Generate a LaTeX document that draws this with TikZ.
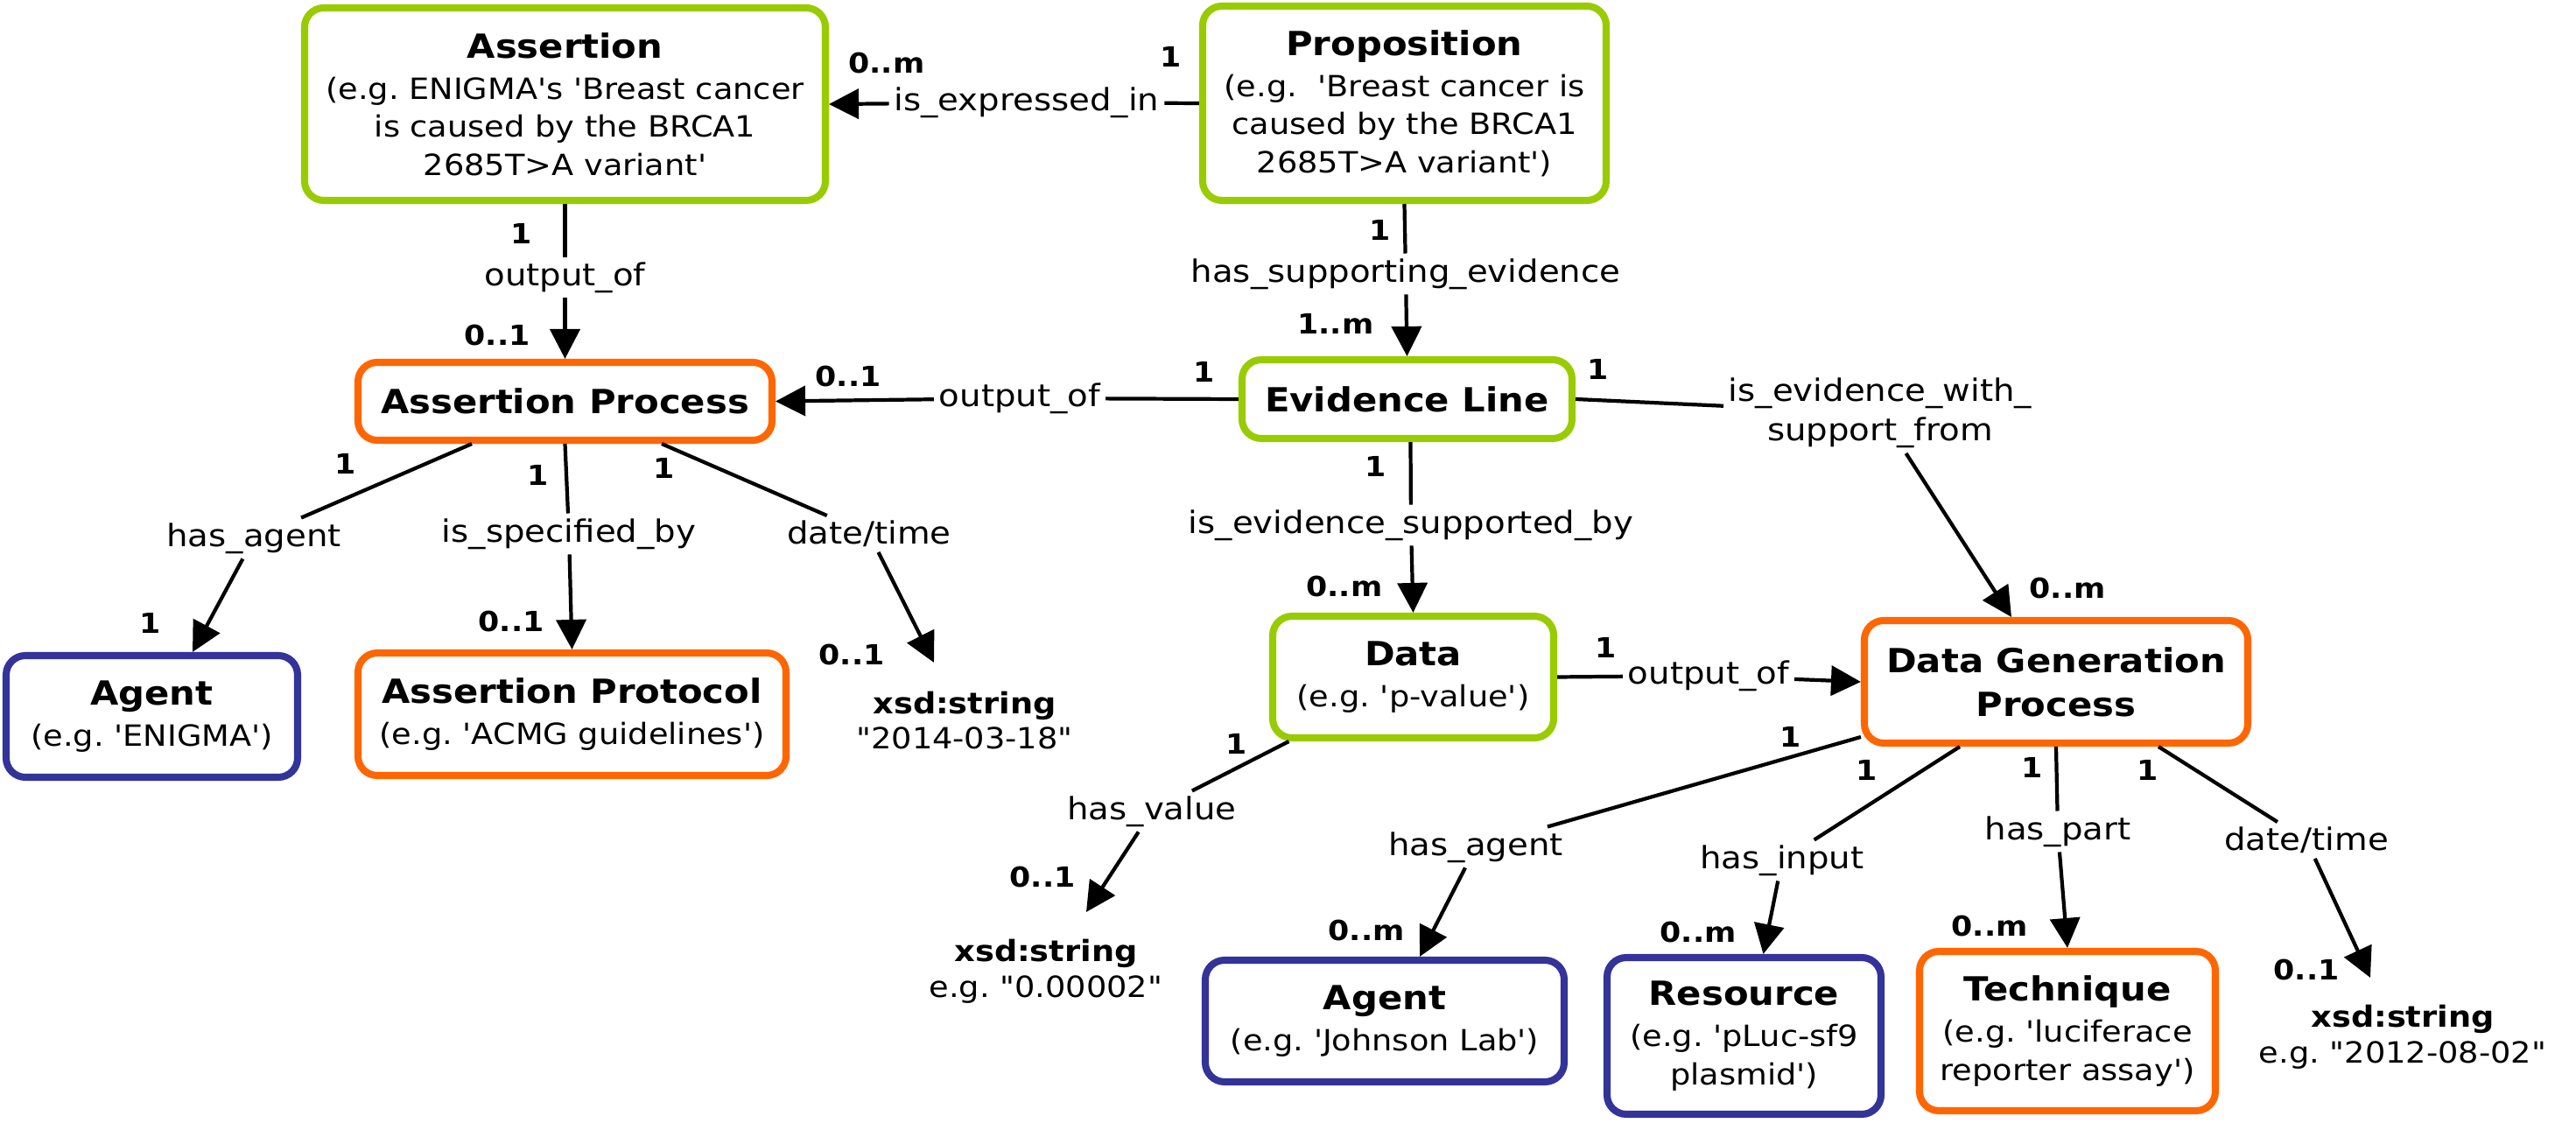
\documentclass[tikz,border=0pt]{standalone}
\usepackage{fontspec}
\newfontfamily\diagfont{DejaVu Sans}[FakeStretch=1.1]
\usetikzlibrary{arrows.meta,positioning}
\definecolor{ngreen}{RGB}{153,204,0}
\definecolor{norange}{RGB}{255,102,0}
\definecolor{nblue}{RGB}{51,51,153}
\newcommand\ttl[1]{{\bfseries\fontsize{10.8}{14}\selectfont #1}}
\frenchspacing

\begin{document}
\begin{tikzpicture}[
    font=\diagfont\fontsize{9.5}{12.4}\selectfont,
    box/.style={draw,line width=2.3pt,rounded corners=0.22cm,align=center,inner sep=0pt},
    greenbox/.style={box,draw=ngreen},
    orangebox/.style={box,draw=norange},
    bluebox/.style={box,draw=nblue},
    lbl/.style={inner sep=1.5pt,align=center,font=\diagfont\fontsize{10}{12.8}\selectfont},
    card/.style={inner sep=0pt,font=\diagfont\bfseries\fontsize{9}{11}\selectfont},
    valtext/.style={inner sep=0pt,align=center,font=\diagfont\fontsize{9.5}{11.5}\selectfont},
    link/.style={line width=1.2pt},
    arr/.style={link,-{Triangle[length=0.34cm,width=0.34cm]}}]
                    \useasboundingbox (0,0) rectangle (29.43,-12.83);

                    % Drawing node Assertion
                    \node [greenbox,minimum width=5.95cm,minimum height=2.20cm] (assert) at (6.455,-1.19) {\ttl{Assertion}\\[1pt](e.g. ENIGMA's 'Breast cancer\\is caused by the BRCA1\\2685T>A variant'};%
                    % Drawing node Proposition
                    \node [greenbox,minimum width=4.61cm,minimum height=2.22cm] (prop) at (16.045,-1.18) {\ttl{Proposition}\\[1pt](e.g.\ \ 'Breast cancer is\\caused by the BRCA1\\2685T>A variant')};%
                    % Drawing node Assertion Process
                    \node [orangebox,minimum width=4.73cm,minimum height=0.89cm] (ap) at (6.455,-4.585) {\ttl{Assertion Process}};%
                    % Drawing node Evidence Line
                    \node [greenbox,minimum width=3.77cm,minimum height=0.90cm] (el) at (16.075,-4.56) {\ttl{Evidence Line}};%
                    % Drawing node Agent (ENIGMA)
                    \node [bluebox,minimum width=3.33cm,minimum height=1.39cm] (agA) at (1.735,-8.185) {\ttl{Agent}\\[1pt](e.g. 'ENIGMA')};%
                    % Drawing node Assertion Protocol
                    \node [orangebox,minimum width=4.89cm,minimum height=1.40cm] (apr) at (6.535,-8.16) {\ttl{Assertion Protocol}\\[1pt](e.g. 'ACMG guidelines')};%
                    % Drawing node Data
                    \node [greenbox,minimum width=3.21cm,minimum height=1.39cm] (data) at (16.145,-7.735) {\ttl{Data}\\[1pt](e.g. 'p-value')};%
                    % Drawing node Data Generation Process
                    \node [orangebox,minimum width=4.38cm,minimum height=1.40cm,font=\diagfont\bfseries\fontsize{10.8}{14.2}\selectfont] (dgp) at (23.49,-7.79) {Data Generation\\Process};%
                    % Drawing node Agent (Johnson Lab)
                    \node [bluebox,minimum width=4.10cm,minimum height=1.39cm] (agB) at (15.82,-11.665) {\ttl{Agent}\\[1pt](e.g. 'Johnson Lab')};%
                    % Drawing node Resource
                    \node [bluebox,minimum width=3.13cm,minimum height=1.79cm] (res) at (19.925,-11.835) {\ttl{Resource}\\[1pt](e.g. 'pLuc-sf9\\plasmid')};%
                    % Drawing node Technique
                    \node [orangebox,minimum width=3.38cm,minimum height=1.82cm] (tech) at (23.62,-11.78) {\ttl{Technique}\\[1pt](e.g. 'luciferace\\reporter assay')};%

                    % Drawing literal values
                    \node [valtext] (xsdA) at (11.02,-8.23) {\textbf{xsd:string}\\"2014-03-18"};%
                    \node [valtext] (xsdB) at (11.95,-11.10) {\textbf{xsd:string}\\e.g. "0.00002"};%
                    \node [valtext] (xsdC) at (27.45,-11.85) {\textbf{xsd:string}\\e.g. "2012-08-02"};%
                    \coordinate (xsdAtip) at (10.67,-7.57);%
                    \coordinate (xsdBtip) at (12.41,-10.42);%
                    \coordinate (xsdCtip) at (27.08,-11.17);%

                    % Drawing link Proposition Assertion
                    \node [lbl] (lExpr) at (11.73,-1.17) {is\_expressed\_in};%
                    \draw [link] (prop.west) -- (lExpr);%
                    \draw [arr] (lExpr) -- (assert.east);%
                    \node [card] (cExprA) at (13.38,-0.65) {1};%
                    \node [card] (cExprB) at (10.13,-0.72) {0..m};%

                    % Drawing link Assertion Assertion Process
                    \node [lbl] (lOutA) at (6.455,-3.17) {output\_of};%
                    \draw [link] (assert.south) -- (lOutA);%
                    \draw [arr] (lOutA) -- (ap.north);%
                    \node [card] (cOutAa) at (5.96,-2.67) {1};%
                    \node [card] (cOutAb) at (5.68,-3.83) {0..1};%

                    % Drawing link Proposition Evidence Line
                    \node [lbl] (lSupp) at (16.06,-3.13) {has\_supporting\_evidence};%
                    \draw [link] (prop.south) -- (lSupp);%
                    \draw [arr] (lSupp) -- (el.north);%
                    \node [card] (cSuppA) at (15.77,-2.63) {1};%
                    \node [card] (cSuppB) at (15.26,-3.70) {1..m};%

                    % Drawing link Evidence Line Assertion Process
                    \node [lbl] (lOutB) at (11.65,-4.55) {output\_of};%
                    \draw [link] (el.west) -- (lOutB);%
                    \draw [arr] (lOutB) -- (ap.east);%
                    \node [card] (cOutBa) at (13.76,-4.25) {1};%
                    \node [card] (cOutBb) at (9.69,-4.30) {0..1};%

                    % Drawing link Assertion Process Agent
                    \node [lbl] (lAgA) at (2.90,-6.15) {has\_agent};%
                    \draw [link] ([xshift=-1.065cm]ap.south) -- (lAgA);%
                    \draw [arr] (lAgA) -- ([xshift=0.465cm]agA.north);%
                    \node [card] (cAgAa) at (3.95,-5.30) {1};%
                    \node [card] (cAgAb) at (1.72,-7.12) {1};%

                    % Drawing link Assertion Process Assertion Protocol
                    \node [lbl] (lSpec) at (6.50,-6.10) {is\_specified\_by};%
                    \draw [link] (ap.south) -- (lSpec);%
                    \draw [arr] (lSpec) -- (apr.north);%
                    \node [card] (cSpecA) at (6.15,-5.43) {1};%
                    \node [card] (cSpecB) at (5.84,-7.10) {0..1};%

                    % Drawing link Assertion Process xsd:string
                    \node [lbl] (lDateA) at (9.93,-6.10) {date/time};%
                    \draw [link] ([xshift=1.105cm]ap.south) -- (lDateA);%
                    \draw [arr] (lDateA) -- (xsdAtip);%
                    \node [card] (cDateAa) at (7.59,-5.35) {1};%
                    \node [card] (cDateAb) at (9.73,-7.48) {0..1};%

                    % Drawing link Evidence Line Data
                    \node [lbl] (lEvSup) at (16.12,-6.00) {is\_evidence\_supported\_by};%
                    \draw [link] ([xshift=0.04cm]el.south) -- (lEvSup);%
                    \draw [arr] (lEvSup) -- (data.north);%
                    \node [card] (cEvSupA) at (15.72,-5.33) {1};%
                    \node [card] (cEvSupB) at (15.36,-6.70) {0..m};%

                    % Drawing link Evidence Line Data Generation Process
                    \node [lbl] (lEvWith) at (21.48,-4.72) {is\_evidence\_with\_\\support\_from};%
                    \draw [link] (el.east) -- (lEvWith);%
                    \draw [arr] (lEvWith) -- ([xshift=-0.51cm]dgp.north);%
                    \node [card] (cEvWithA) at (18.26,-4.22) {1};%
                    \node [card] (cEvWithB) at (23.62,-6.72) {0..m};%

                    % Drawing link Data Data Generation Process
                    \node [lbl] (lOutC) at (19.52,-7.72) {output\_of};%
                    \draw [link] (data.east) -- (lOutC);%
                    \draw [arr] (lOutC) -- (dgp.west);%
                    \node [card] (cOutCa) at (18.35,-7.40) {1};%

                    % Drawing link Data xsd:string
                    \node [lbl] (lVal) at (13.16,-9.27) {has\_value};%
                    \draw [link] ([xshift=-1.42cm]data.south) -- (lVal);%
                    \draw [arr] (lVal) -- (xsdBtip);%
                    \node [card] (cValA) at (14.13,-8.50) {1};%
                    \node [card] (cValB) at (11.91,-10.02) {0..1};%

                    % Drawing link Data Generation Process Agent
                    \node [lbl] (lAgB) at (16.86,-9.68) {has\_agent};%
                    \draw [link] ([yshift=-0.63cm]dgp.west) -- (lAgB);%
                    \draw [arr] (lAgB) -- ([xshift=0.40cm]agB.north);%
                    \node [card] (cAgBa) at (20.46,-8.42) {1};%
                    \node [card] (cAgBb) at (15.61,-10.63) {0..m};%

                    % Drawing link Data Generation Process Resource
                    \node [lbl] (lInp) at (20.36,-9.83) {has\_input};%
                    \draw [link] ([xshift=-1.10cm]dgp.south) -- (lInp);%
                    \draw [arr] (lInp) -- ([xshift=0.22cm]res.north);%
                    \node [card] (cInpA) at (21.33,-8.80) {1};%
                    \node [card] (cInpB) at (19.40,-10.65) {0..m};%

                    % Drawing link Data Generation Process Technique
                    \node [lbl] (lPart) at (23.51,-9.50) {has\_part};%
                    \draw [link] (dgp.south) -- (lPart);%
                    \draw [arr] (lPart) -- (tech.north);%
                    \node [card] (cPartA) at (23.22,-8.77) {1};%
                    \node [card] (cPartB) at (22.73,-10.58) {0..m};%

                    % Drawing link Data Generation Process xsd:string
                    \node [lbl] (lDateB) at (26.35,-9.60) {date/time};%
                    \draw [link] ([xshift=1.17cm]dgp.south) -- (lDateB);%
                    \draw [arr] (lDateB) -- (xsdCtip);%
                    \node [card] (cDateBa) at (24.54,-8.80) {1};%
                    \node [card] (cDateBb) at (26.35,-11.08) {0..1};%
\end{tikzpicture}
\end{document}
